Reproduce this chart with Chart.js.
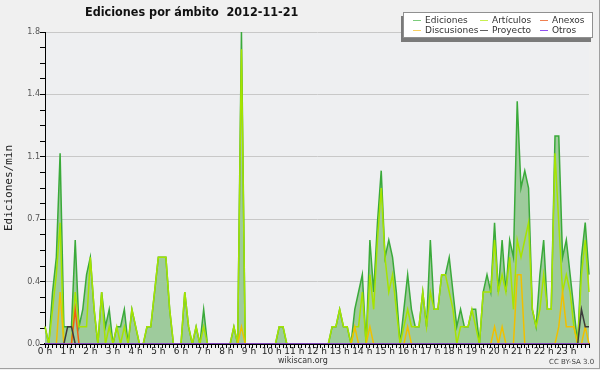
<!DOCTYPE html>
<html><head><meta charset="utf-8">
<script src="https://cdn.jsdelivr.net/npm/chart.js@4.4.1/dist/chart.umd.min.js"></script>
<style>
html,body{margin:0;padding:0;background:#f0f0f0;}
#wrap{position:relative;width:600px;height:370px;overflow:hidden;background:#f0f0f0;}
#c{position:absolute;left:0;top:0;}
#frame{position:absolute;left:0;top:0;width:599px;height:368px;border-right:1px solid #a0a0a0;border-bottom:1px solid #a0a0a0;pointer-events:none;}
#title{position:absolute;left:85px;top:4px;font:bold 12.5px "DejaVu Sans Condensed","DejaVu Sans",sans-serif;font-stretch:condensed;color:#111;white-space:pre;}
#legend{position:absolute;left:403px;top:12px;width:188px;height:24px;background:#fff;border:1px solid #909090;box-shadow:-2px 4px 0 #7a7a7a;font:9px "DejaVu Sans",sans-serif;color:#333;}
.li{position:absolute;white-space:nowrap;line-height:10px;}
.li i{display:inline-block;width:8px;height:1px;vertical-align:middle;margin-right:4px;}
#src{position:absolute;left:278px;top:356px;font:8px "DejaVu Sans",sans-serif;color:#333;}
#lic{position:absolute;left:549px;top:358px;font:7px "DejaVu Sans",sans-serif;color:#444;}
</style></head>
<body>
<div id="wrap">
<canvas id="c" width="600" height="370"></canvas>
<div id="title">Ediciones por ámbito  2012-11-21</div>
<div id="legend"></div>
<div id="src">wikiscan.org</div>
<div id="lic">CC BY-SA 3.0</div>
<div id="frame"></div>
</div>
<script>
// 10-minute slots over one day (0 h .. 24 h)
const slotMinutes = 10;
const slotCount = 145;
const xTickLabels = ['0 h','1 h','2 h','3 h','4 h','5 h','6 h','7 h','8 h','9 h','10 h','11 h','12 h','13 h','14 h','15 h','16 h','17 h','18 h','19 h','20 h','21 h','22 h','23 h'];
const yTickLabels = ['0.0','0.4','0.7','1.1','1.4','1.8'];
const yMax = 1.8;

const ediciones = [
0.1,0,0.3,0.5,1.1,0.1,0.1,0.1,0.6,0.1,
0.2,0.4,0.5,0.2,0,0.3,0.1,0.2,0,0.1,
0.1,0.2,0,0.2,0.1,0,0,0.1,0.1,0.3,
0.5,0.5,0.5,0.2,0,0,0,0.3,0.1,0,
0.1,0,0.2,0,0,0,0,0,0,0,
0.1,0,1.8,0,0,0,0,0,0,0,
0,0,0.1,0.1,0,0,0,0,0,0,
0,0,0,0,0,0,0.1,0.1,0.2,0.1,
0.1,0,0.2,0.3,0.4,0,0.6,0.3,0.7,1.0,
0.5,0.6,0.5,0.3,0,0.2,0.4,0.2,0.1,0.1,
0.3,0.1,0.6,0.2,0.2,0.4,0.4,0.5,0.3,0.1,
0.2,0.1,0.1,0.2,0.2,0,0.3,0.4,0.3,0.7,
0.3,0.6,0.3,0.6,0.5,1.4,0.9,1.0,0.9,0.2,
0.1,0.4,0.6,0.2,0.2,1.2,1.2,0.5,0.6,0.4,
0.2,0,0.5,0.7,0.4];
const articulos = [
0.1,0,0.2,0.4,0.7,0,0,0,0.3,0.1,
0.1,0.1,0.5,0.2,0,0.3,0,0.1,0,0.1,
0,0.1,0,0.2,0.1,0,0,0.1,0.1,0.3,
0.5,0.5,0.5,0.2,0,0,0,0.3,0.1,0,
0.1,0,0.1,0,0,0,0,0,0,0,
0.1,0,1.7,0,0,0,0,0,0,0,
0,0,0.1,0.1,0,0,0,0,0,0,
0,0,0,0,0,0,0.1,0.1,0.2,0.1,
0.1,0,0.1,0.1,0.3,0,0.4,0.2,0.6,0.9,
0.5,0.3,0.4,0.2,0,0.1,0.2,0.1,0.1,0.1,
0.3,0.1,0.3,0.2,0.2,0.4,0.4,0.3,0.2,0,
0.1,0.1,0.1,0.2,0.1,0,0.3,0.3,0.3,0.6,
0.3,0.4,0.3,0.5,0.2,0.6,0.5,0.6,0.7,0.2,
0.1,0.2,0.4,0.2,0.2,1.1,0.7,0.3,0.4,0.3,
0.1,0,0.4,0.6,0.3];
const anexos = [
0,0,0,0,0,0,0,0,0.2,0,
0,0,0,0,0,0,0,0,0,0,
0,0,0,0,0,0,0,0,0,0,
0,0,0,0,0,0,0,0,0,0,
0,0,0,0,0,0,0,0,0,0,
0,0,0,0,0,0,0,0,0,0,
0,0,0,0,0,0,0,0,0,0,
0,0,0,0,0,0,0,0,0,0,
0,0,0,0,0,0,0,0,0,0,
0,0,0,0,0,0,0,0,0,0,
0,0,0,0,0,0,0,0,0,0,
0,0,0,0,0,0,0,0,0,0,
0,0,0,0,0,0,0,0,0,0,
0,0,0,0,0,0,0,0,0,0,
0,0,0,0,0];
const discusiones = [
0,0,0,0,0.3,0,0,0,0,0,
0,0,0,0,0,0,0,0,0,0,
0,0,0,0,0,0,0,0,0,0,
0,0,0,0,0,0,0,0,0,0,
0,0,0,0,0,0,0,0,0,0,
0,0,0.1,0,0,0,0,0,0,0,
0,0,0,0,0,0,0,0,0,0,
0,0,0,0,0,0,0,0,0,0,
0,0,0.1,0,0,0,0.1,0,0,0,
0,0,0,0,0,0,0.1,0,0,0,
0,0,0,0,0,0,0,0,0,0,
0,0,0,0,0,0,0,0,0,0.1,
0,0.1,0,0,0,0.4,0.4,0,0,0,
0,0,0,0,0,0,0.1,0.3,0.1,0.1,
0.1,0,0,0.1,0];
const proyecto = [
0,0,0,0,0,0,0.1,0.1,0,0,
0,0,0,0,0,0,0,0,0,0,
0,0,0,0,0,0,0,0,0,0,
0,0,0,0,0,0,0,0,0,0,
0,0,0,0,0,0,0,0,0,0,
0,0,0,0,0,0,0,0,0,0,
0,0,0,0,0,0,0,0,0,0,
0,0,0,0,0,0,0,0,0,0,
0,0,0,0,0,0,0,0,0,0,
0,0,0,0,0,0,0,0,0,0,
0,0,0,0,0,0,0,0,0,0,
0,0,0,0,0,0,0,0,0,0,
0,0,0,0,0,0,0,0,0,0,
0,0,0,0,0,0,0,0,0,0,
0,0,0.2,0.1,0.1];
const otros = [
0,0,0,0,0,0,0,0,0,0,
0,0,0,0,0,0,0,0,0,0,
0,0,0,0,0,0,0,0,0,0,
0,0,0,0,0,0,0,0,0,0,
0,0,0,0,0,0,0,0,0,0,
0,0,0,0,0,0,0,0,0,0,
0,0,0,0,0,0,0,0,0,0,
0,0,0,0,0,0,0,0,0,0,
0,0,0,0,0,0,0,0,0,0,
0,0,0,0,0,0,0,0,0,0,
0,0,0,0,0,0,0,0,0,0,
0,0,0,0,0,0,0,0,0,0,
0,0,0,0,0,0,0,0,0,0,
0,0,0,0,0,0,0,0,0,0,
0,0,0,0,0];

const slotHours = Array.from({length: slotCount}, (_, i) => i * slotMinutes / 60);
const pts = arr => arr.map((v, i) => ({x: slotHours[i], y: v}));

const series = [
  {label:'Ediciones',   data:ediciones,   color:'#3aaa3a', legend:'#7ccc7c', order:10, fill:true},
  {label:'Artículos',   data:articulos,   color:'#a6e400', legend:'#c8f050', order:6},
  {label:'Anexos',      data:anexos,      color:'#f06010', legend:'#f08050', order:4},
  {label:'Discusiones', data:discusiones, color:'#f0c000', legend:'#f8d060', order:5},
  {label:'Proyecto',    data:proyecto,    color:'#3c3c3c', legend:'#606060', order:3},
  {label:'Otros',       data:otros,       color:'#8a40e8', legend:'#9050f0', order:2}
];

const datasets = series.map(s => ({
  label: s.label,
  data: pts(s.data),
  borderColor: s.color,
  backgroundColor: s.fill ? '#9ecb9c' : s.color,
  fill: s.fill ? 'origin' : false,
  borderWidth: 1.5,
  pointRadius: 0,
  tension: 0,
  order: s.order,
  clip: {left: 1, top: 2, right: 1, bottom: 0}
}));

const plotBg = {
  id: 'plotBg',
  beforeDraw(chart) {
    const a = chart.chartArea, ctx = chart.ctx;
    ctx.save();
    ctx.fillStyle = '#eeeff1';
    ctx.fillRect(a.left, a.top, a.right - a.left, a.bottom - a.top);
    ctx.restore();
  }
};

const yStep = yMax / (yTickLabels.length - 1);
const yMinorPer = 4;

new Chart(document.getElementById('c'), {
  type: 'line',
  data: { datasets },
  plugins: [plotBg],
  options: {
    responsive: false,
    animation: false,
    devicePixelRatio: 1,
    layout: { padding: { top: 32, right: 11, left: 0, bottom: 0 } },
    plugins: { legend: { display: false }, tooltip: { enabled: false }, title: { display: false } },
    scales: {
      x: {
        type: 'linear', min: 0, max: 24, z: 1,
        afterBuildTicks: s => { s.ticks = slotHours.map(v => ({value: v})); },
        afterFit: s => { s.height = 26; },
        ticks: {
          autoSkip: false, maxRotation: 0, minRotation: 0, padding: -2,
          color: '#222', font: { family: 'DejaVu Sans', size: 9 },
          callback: (v, i) => (i % 6 === 0 && i / 6 < xTickLabels.length) ? xTickLabels[i / 6] : ''
        },
        grid: { drawOnChartArea: false, tickLength: 4, tickColor: '#000', tickWidth: 1 },
        border: { color: '#000', width: 2 }
      },
      y: {
        type: 'linear', min: 0, max: yMax,
        afterBuildTicks: s => {
          const t = [];
          for (let k = 0; k <= (yTickLabels.length - 1) * yMinorPer; k++) t.push({value: k * yStep / yMinorPer});
          s.ticks = t;
        },
        afterFit: s => { s.width = 45; },
        ticks: {
          autoSkip: false, padding: 0, color: '#555', font: { family: 'DejaVu Sans', size: 8 },
          callback: (v, i) => (i % yMinorPer === 0) ? yTickLabels[i / yMinorPer] : ''
        },
        grid: {
          color: c => (c.index % yMinorPer === 0 && c.index > 0) ? '#c8c8c8' : 'rgba(0,0,0,0)',
          tickColor: '#000', tickLength: 5, lineWidth: 1
        },
        border: { color: '#000', width: 1 },
        title: { display: true, text: 'Ediciones/min', color: '#222', padding: { top: 3, bottom: 0 },
                 font: { family: 'DejaVu Sans Mono', size: 11 } }
      }
    }
  }
});

// legend (3 columns x 2 rows)
const lg = document.getElementById('legend');
const colX = [9, 76, 136];
const rowY = [2, 12];
const legendOrder = ['Ediciones','Artículos','Anexos','Discusiones','Proyecto','Otros'];
legendOrder.forEach((name, k) => {
  const s = series.find(q => q.label === name);
  const d = document.createElement('div');
  d.className = 'li';
  d.style.left = colX[k % 3] + 'px';
  d.style.top = rowY[Math.floor(k / 3)] + 'px';
  d.innerHTML = '<i style="background:' + s.legend + '"></i>' + name;
  lg.appendChild(d);
});
</script>
</body></html>
